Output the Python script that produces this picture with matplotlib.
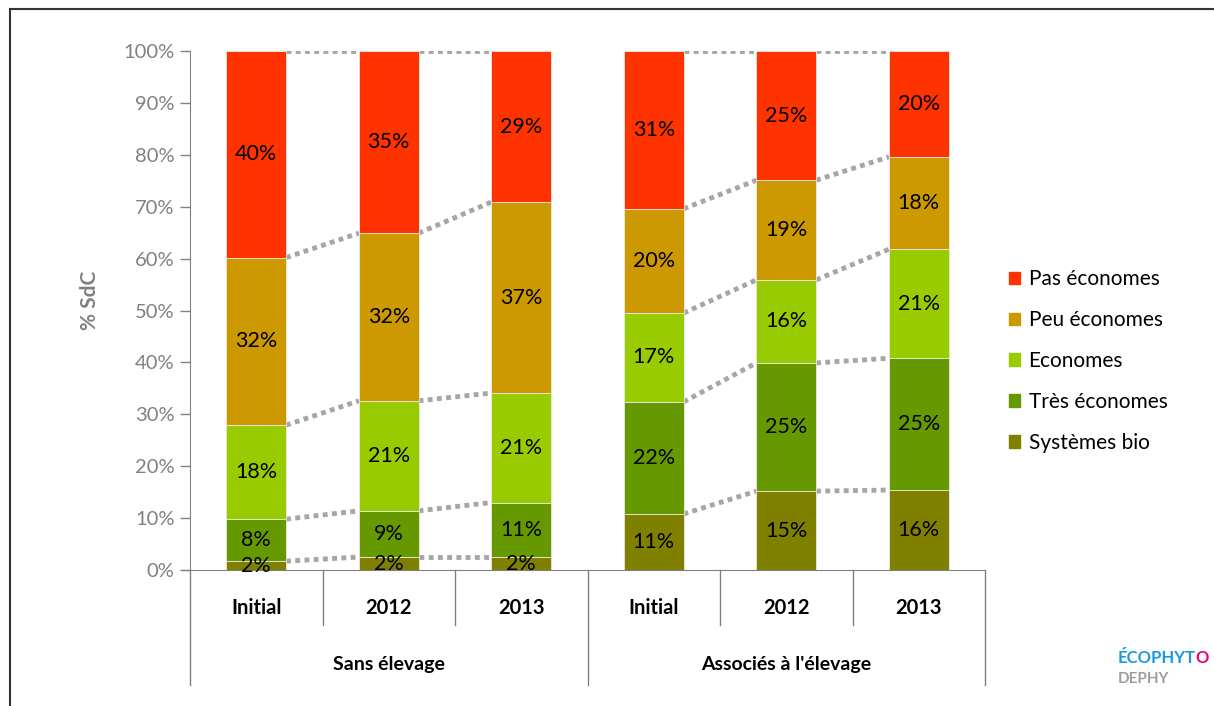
import numpy as np
import matplotlib.pyplot as plt
from matplotlib.patches import Patch
from matplotlib.transforms import blended_transform_factory

plt.rcParams['font.family'] = ['Lato', 'DejaVu Sans']

# data (% of SdC)
years = ['Initial', '2012', '2013', 'Initial', '2012', '2013']
groups = ['Sans élevage', "Associés à l'élevage"]
series = ['Systèmes bio', 'Très économes', 'Economes', 'Peu économes', 'Pas économes']
colors = ['#808000', '#669900', '#99CC00', '#CC9900', '#FF3300']

bio = [1.7, 2.5, 2.5, 10.8, 15.2, 15.4]
tres = [8.1, 8.9, 10.5, 21.6, 24.7, 25.4]
eco = [18.1, 21.2, 21.1, 17.1, 16.0, 21.0]
peu = [32.3, 32.3, 36.8, 20.1, 19.2, 17.8]
pas = [39.8, 35.1, 29.1, 30.4, 24.9, 20.4]

lab_bio = [2, 2, 2, 11, 15, 16]
lab_tres = [8, 9, 11, 22, 25, 25]
lab_eco = [18, 21, 21, 17, 16, 21]
lab_peu = [32, 32, 37, 20, 19, 18]
lab_pas = [40, 35, 29, 31, 25, 20]

vals = np.array([bio, tres, eco, peu, pas])
labs = [lab_bio, lab_tres, lab_eco, lab_peu, lab_pas]

fig = plt.figure(figsize=(12.14, 7.06), dpi=100)
ax = fig.add_axes([190/1214, 1-570/706, 795/1214, 519/706])

x = np.arange(len(years))
w = 0.45
bottom = np.zeros(len(years))
for i in range(len(series)):
    ax.bar(x, vals[i], w, bottom=bottom, color=colors[i], edgecolor='#E8E8E8', linewidth=0.6, zorder=3)
    for j in range(len(years)):
        ax.text(x[j], bottom[j] + vals[i][j]/2, f'{labs[i][j]}%', ha='center', va='center',
                fontsize=15.5, color='black', zorder=4)
    bottom += vals[i]

# dotted connectors between bars of same group
cum = np.cumsum(vals, axis=0)
for k in range(cum.shape[0]):
    for j in [0, 1, 3, 4]:
        ax.plot([x[j] + w/2, x[j+1] - w/2], [cum[k][j], cum[k][j+1]], color='#A6A6A6',
                lw=3.5, dashes=(1, 0.9), zorder=2, dash_capstyle='butt')

ax.set_xlim(-0.5, 5.5)
ax.set_ylim(0, 100)
ax.set_yticks(np.arange(0, 101, 10))
ax.set_yticklabels([f'{t}%' for t in range(0, 101, 10)], fontsize=14.5, color='#808080')
ax.tick_params(axis='y', length=7, color='#808080', width=1, pad=4)
ax.set_xticks([])
for s in ['top', 'right']:
    ax.spines[s].set_visible(False)
ax.spines['left'].set_color('#808080')
ax.spines['bottom'].set_color('#808080')
ax.spines['bottom'].set_bounds(-0.57, 5.5)

ax.set_ylabel('% SdC', fontsize=15, fontweight='bold', color='#808080')
ax.yaxis.set_label_coords(-90/795, 0.52)

# two level category axis
tr = blended_transform_factory(ax.transData, ax.transAxes)
for xs in [0.5, 1.5, 3.5, 4.5]:
    ax.plot([xs, xs], [0, -0.106], transform=tr, color='#808080', lw=1, clip_on=False)
for xs in [-0.5, 2.5, 5.5]:
    ax.plot([xs, xs], [0, -0.222], transform=tr, color='#808080', lw=1, clip_on=False)
for j, yr in enumerate(years):
    ax.text(x[j], -0.073, yr, transform=tr, ha='center', va='center', fontsize=14.5, fontweight='bold')
for g, name in enumerate(groups):
    ax.text(1 + 3*g, -0.183, name, transform=tr, ha='center', va='center', fontsize=14, fontweight='bold')

handles = [Patch(color=colors[i]) for i in range(len(series))][::-1]
fig.legend(handles, series[::-1], loc='center left', bbox_to_anchor=(990/1214, 1-361/706),
           frameon=False, fontsize=15, handlelength=0.55, handleheight=0.55, handletextpad=0.4,
           labelspacing=1.0)

# frame lines of the picture
fig.add_artist(plt.Line2D([10/1214, 10/1214], [0, 1-9/706], color='#333333', lw=1.5))
fig.add_artist(plt.Line2D([10/1214, 1], [1-9/706, 1-9/706], color='#333333', lw=1.5))

# small logo
t1 = fig.text(1118/1214, 1-658/706, 'ÉCOPHYT', fontsize=12, fontweight='bold', color='#1a9bd7', va='center')
fig.canvas.draw()
bb = t1.get_window_extent()
fig.text(bb.x1/1214 - 1/1214, 1-658/706, 'O', fontsize=12, fontweight='bold', color='#e5007e', va='center')
fig.text(1118/1214, 1-679/706, 'DEPHY', fontsize=11, fontweight='bold', color='#9d9d9d', va='center')

fig.savefig('out.png', dpi=100)
